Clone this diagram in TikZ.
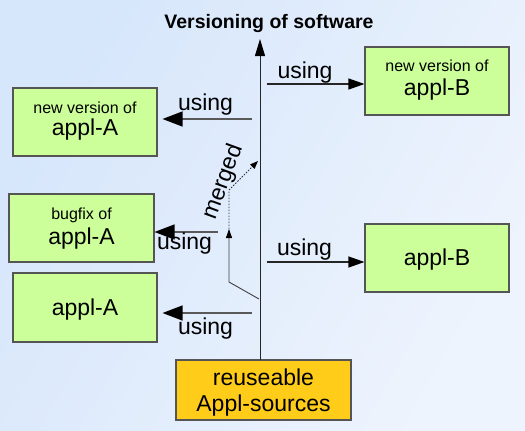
\documentclass[tikz,border=0pt]{standalone}
\usepackage{fontspec}
\setmainfont{Liberation Sans}
\usetikzlibrary{arrows.meta}
\definecolor{boxgreen}{HTML}{CCFF99}
\definecolor{boxyellow}{HTML}{FFCC1A}
\definecolor{boxline}{HTML}{555555}
\definecolor{bgA}{HTML}{D6E6FB}
\definecolor{bgB}{HTML}{EEF4FD}
\newcommand\fbig{\fontsize{23}{27}\selectfont}
\newcommand\fsmall{\fontsize{16}{19}\selectfont}
\newcommand\ftitle{\fontsize{19.5}{23}\selectfont\bfseries}
\newcommand\fmerged{\fontsize{23}{27}\selectfont}
\begin{document}
\begin{tikzpicture}[x={(1pt,0)},y={(0,-1pt)},
  gbox/.style={draw=boxline,line width=1.1pt,fill=boxgreen,inner sep=0pt},
  ybox/.style={draw=boxline,line width=1.1pt,fill=boxyellow,inner sep=0pt},
  txt/.style={anchor=base,inner sep=0pt},
  larr/.style={draw=black!65,line width=1.3pt,-{Triangle[length=20pt,width=15pt,color=black]}},
  rarr/.style={draw=black!85,line width=1.1pt,-{Triangle[length=16pt,width=11pt,color=black]}},
  marr/.style={draw=black!85,line width=1pt,-{Triangle[length=17pt,width=10pt,color=black]}},
  sarr/.style={draw=black!75,line width=0.9pt,-{Triangle[length=9pt,width=6pt,color=black]}},
  darr/.style={draw=black!80,line width=0.9pt,dash pattern=on 1.5pt off 1.5pt,-{Triangle[length=8pt,width=6pt,color=black]}}]
\useasboundingbox (0,0) rectangle (525,431);
\shade[shading=axis,left color=bgA,right color=bgB,shading angle=60] (0,0) rectangle (525,431);

% title
\node[txt,font=\ftitle] (title) at (269,28.3) {Versioning of software};

% boxes
\node[gbox,minimum width=144pt,minimum height=68pt] (bA1) at (85,122) {};
\node[gbox,minimum width=145pt,minimum height=68pt] (bA2) at (81.5,228) {};
\node[gbox,minimum width=144pt,minimum height=69pt] (bA3) at (85,307.5) {};
\node[gbox,minimum width=144pt,minimum height=68pt] (bB1) at (437,81) {};
\node[gbox,minimum width=144pt,minimum height=68pt] (bB2) at (437,258) {};
\node[ybox,minimum width=175pt,minimum height=60pt] (src) at (263.5,390) {};

% box texts
\node[txt,font=\fsmall] (tA1a) at (85,113.3) {new version of};
\node[txt,font=\fbig] (tA1b) at (85,135) {appl-A};
\node[txt,font=\fsmall] (tA2a) at (81.5,219.3) {bugfix of};
\node[txt,font=\fbig] (tA2b) at (81.5,244) {appl-A};
\node[txt,font=\fbig] (tA3) at (85,315) {appl-A};
\node[txt,font=\fsmall] (tB1a) at (437,71.7) {new version of};
\node[txt,font=\fbig] (tB1b) at (437,95) {appl-B};
\node[txt,font=\fbig] (tB2) at (437,265) {appl-B};
\node[txt,font=\fbig] (tS1) at (263.5,385) {reuseable};
\node[txt,font=\fbig] (tS2) at (263.5,411.7) {Appl-sources};

% main line
\coordinate (m0) at (260,360);
\coordinate (mtop) at (260,39);
\draw[marr] (m0) -- (mtop);

% using arrows
\coordinate (s1) at (252,119);
\coordinate (s2) at (218,232);
\coordinate (s3) at (252,313);
\coordinate (s4) at (267,84);
\coordinate (s5) at (267,262);
\draw[larr,shorten >=5pt] (s1) -- (bA1.east |- s1);
\draw[larr] (s2) -- (bA2.east |- s2);
\draw[larr,shorten >=5pt] (s3) -- (bA3.east |- s3);
\draw[rarr] (s4) -- (bB1.west |- s4);
\draw[rarr] (s5) -- (bB2.west |- s5);

\node[txt,font=\fbig] (u1) at (205.5,110) {using};
\node[txt,font=\fbig] (u2) at (184.5,249.5) {using};
\node[txt,font=\fbig] (u3) at (205.5,334) {using};
\node[txt,font=\fbig] (u4) at (305,78) {using};
\node[txt,font=\fbig] (u5) at (304.5,255) {using};

% merge
\coordinate (mg0) at (259,299);
\coordinate (mg1) at (229,282);
\coordinate (mg2) at (229,229);
\coordinate (mg3) at (229,190);
\coordinate (mg4) at (258,161);
\draw[sarr] (mg0) -- (mg1) -- (mg2);
\draw[darr] (mg2) -- (mg3) -- (mg4);
\node[inner sep=0pt,font=\fmerged,rotate=70] (merged) at (223.5,182) {merged};
\end{tikzpicture}
\end{document}
